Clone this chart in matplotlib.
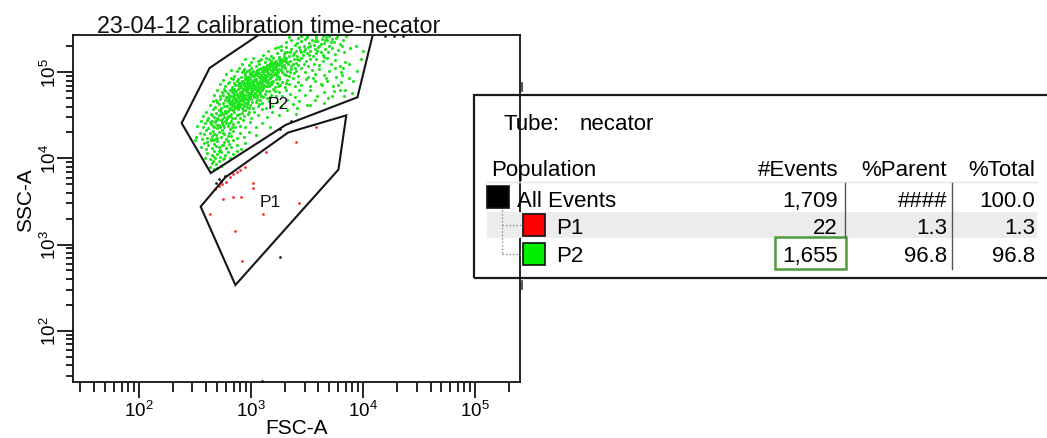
import numpy as np
import matplotlib
matplotlib.use("Agg")
import matplotlib.pyplot as plt
from matplotlib.patches import Polygon, Rectangle
from matplotlib.lines import Line2D
from matplotlib.ticker import LogLocator, NullFormatter, FixedLocator, FixedFormatter

plt.rcParams['font.family'] = ['Liberation Sans', 'DejaVu Sans']
plt.rcParams['mathtext.fontset'] = 'custom'
plt.rcParams['mathtext.rm'] = 'Liberation Sans'
plt.rcParams['mathtext.it'] = 'Liberation Sans:italic'
plt.rcParams['mathtext.default'] = 'regular'

# ---------------------------------------------------------------- data
title = "23-04-12 calibration time-necator"
x_label = "FSC-A"
y_label = "SSC-A"
decades = [2, 3, 4, 5]

# gate vertices, (log10 FSC-A, log10 SSC-A)
p2_gate = [(3.21, 5.56), (2.63, 5.05), (2.38, 4.41), (2.64, 3.83),
           (3.31, 4.39), (3.95, 4.71), (4.11, 5.56)]
p1_gate = [(2.55, 3.44), (2.77, 3.78), (3.33, 4.30), (3.85, 4.50),
           (3.78, 3.87), (2.86, 2.53)]
gate_labels = {"P2": (3.24, 4.64), "P1": (3.17, 3.50)}

# P2 events (log10 FSC-A, log10 SSC-A)
p2_events = [
    (3.27, 5.31), (3.31, 5.35), (3.36, 5.38), (3.39, 5.32), (3.42, 5.40), (3.45, 5.36), (3.47, 5.31),
    (3.50, 5.41), (3.52, 5.34), (3.54, 5.38), (3.56, 5.32), (3.58, 5.40), (3.59, 5.36), (3.61, 5.30),
    (3.63, 5.39), (3.65, 5.34), (3.67, 5.41), (3.68, 5.37), (3.70, 5.31), (3.72, 5.39), (3.74, 5.35),
    (3.76, 5.40), (3.79, 5.33), (3.82, 5.38), (3.41, 5.34), (3.48, 5.39),
    (3.53, 5.30), (3.57, 5.36), (3.62, 5.33), (3.66, 5.38), (3.34, 5.41), (3.71, 5.35), (3.81, 5.31),
    (3.45, 5.42), (3.50, 5.42), (3.58, 5.42), (3.64, 5.42), (3.70, 5.42), (3.77, 5.42), (3.85, 5.42),
    (3.11, 5.20), (3.15, 5.25), (3.18, 5.19), (3.21, 5.28), (3.23, 5.22), (3.25, 5.18), (3.27, 5.26),
    (3.29, 5.21), (3.31, 5.29), (3.32, 5.24), (3.34, 5.19), (3.36, 5.27), (3.38, 5.22), (3.40, 5.25),
    (3.41, 5.19), (3.43, 5.29), (3.45, 5.23), (3.46, 5.20), (3.48, 5.27), (3.50, 5.22), (3.51, 5.29),
    (3.53, 5.25), (3.55, 5.19), (3.57, 5.27), (3.58, 5.22), (3.60, 5.29), (3.62, 5.24), (3.64, 5.20),
    (3.66, 5.27), (3.69, 5.23), (3.72, 5.28), (3.75, 5.21), (3.78, 5.26), (3.83, 5.23), (3.88, 5.28),
    (3.30, 5.24), (3.37, 5.20), (3.44, 5.26), (3.52, 5.20), (3.59, 5.25), (3.24, 5.29),
    (3.35, 5.23), (3.47, 5.25), (3.65, 5.18),
    (2.92, 5.10), (2.95, 5.15), (2.98, 5.08), (3.00, 5.12), (3.02, 5.17), (3.04, 5.07), (3.06, 5.13),
    (3.07, 5.10), (3.09, 5.16), (3.11, 5.06), (3.12, 5.12), (3.14, 5.09), (3.16, 5.15), (3.17, 5.11),
    (3.19, 5.07), (3.20, 5.17), (3.22, 5.13), (3.23, 5.09), (3.25, 5.15), (3.26, 5.11), (3.28, 5.07),
    (3.30, 5.14), (3.31, 5.17), (3.33, 5.10), (3.35, 5.13), (3.36, 5.07), (3.38, 5.16), (3.40, 5.11),
    (3.42, 5.08), (3.43, 5.14), (3.45, 5.17), (3.47, 5.10), (3.49, 5.13), (3.51, 5.07), (3.53, 5.15),
    (3.56, 5.10), (3.58, 5.16), (3.61, 5.08), (3.64, 5.13), (3.68, 5.17), (3.71, 5.10), (3.75, 5.14),
    (3.79, 5.07), (3.84, 5.12), (3.08, 5.14), (3.13, 5.17), (3.18, 5.13), (3.21, 5.10),
    (3.27, 5.16), (3.32, 5.12), (3.37, 5.10), (3.41, 5.15), (3.15, 5.08), (3.29, 5.09),
    (2.78, 4.98), (2.82, 5.03), (2.85, 4.96), (2.87, 5.01), (2.89, 5.05), (2.91, 4.95), (2.92, 5.00),
    (2.94, 5.04), (2.95, 4.97), (2.96, 5.02), (2.97, 4.94), (2.99, 4.99), (3.00, 5.05), (3.02, 5.01),
    (3.03, 4.96), (3.05, 5.03), (3.06, 4.99), (3.08, 4.95), (3.09, 5.05), (3.10, 5.01), (3.12, 4.97),
    (3.13, 5.03), (3.15, 4.99), (3.16, 5.05), (3.18, 4.95), (3.19, 5.01), (3.21, 4.98), (3.22, 5.04),
    (3.24, 5.00), (3.25, 4.95), (3.27, 5.03), (3.29, 4.98), (3.30, 5.05), (3.32, 5.01), (3.34, 4.96),
    (3.36, 5.04), (3.38, 4.99), (3.40, 5.02), (3.42, 4.96), (3.45, 5.05), (3.48, 5.00), (3.51, 4.95),
    (3.54, 5.03), (3.57, 4.98), (3.61, 5.04), (3.65, 4.97), (3.70, 5.02), (3.76, 4.95), (3.82, 5.05),
    (2.98, 5.03), (3.01, 4.97), (3.04, 5.00), (3.07, 5.04), (3.11, 4.95), (3.14, 5.01),
    (3.17, 4.97), (3.20, 5.03), (3.23, 4.96), (3.28, 5.00), (3.31, 4.97), (2.95, 4.99), (2.93, 5.02),
    (3.35, 5.00), (3.39, 5.05),
    (2.72, 4.86), (2.75, 4.91), (2.77, 4.84), (2.80, 4.89), (2.82, 4.93), (2.83, 4.83), (2.85, 4.88),
    (2.86, 4.85), (2.88, 4.92), (2.89, 4.87), (2.91, 4.83), (2.92, 4.90), (2.93, 4.86), (2.95, 4.93),
    (2.96, 4.84), (2.97, 4.89), (2.98, 4.86), (2.99, 4.92), (3.00, 4.82), (3.02, 4.88), (3.03, 4.85),
    (3.04, 4.91), (3.06, 4.87), (3.07, 4.83), (3.08, 4.93), (3.10, 4.89), (3.11, 4.85), (3.13, 4.91),
    (3.14, 4.84), (3.15, 4.88), (3.17, 4.93), (3.18, 4.86), (3.20, 4.90), (3.21, 4.83), (3.23, 4.88),
    (3.25, 4.92), (3.26, 4.85), (3.28, 4.89), (3.30, 4.83), (3.32, 4.91), (3.34, 4.86), (3.37, 4.93),
    (3.39, 4.84), (3.42, 4.89), (3.45, 4.85), (3.49, 4.92), (3.53, 4.84), (3.57, 4.90), (3.62, 4.86),
    (3.67, 4.93), (3.73, 4.84), (3.80, 4.89), (2.87, 4.90), (2.90, 4.85), (2.94, 4.88),
    (2.97, 4.91), (3.01, 4.84), (3.05, 4.89), (3.09, 4.86), (3.12, 4.93), (3.16, 4.84), (3.19, 4.87),
    (3.22, 4.92), (2.84, 4.92), (3.31, 4.87), (3.55, 4.93), (2.79, 4.87), (2.96, 4.94), (3.24, 4.84),
    (2.67, 4.74), (2.70, 4.79), (2.72, 4.72), (2.74, 4.77), (2.76, 4.81), (2.78, 4.71), (2.79, 4.76),
    (2.81, 4.80), (2.82, 4.73), (2.84, 4.78), (2.85, 4.71), (2.87, 4.75), (2.88, 4.81), (2.90, 4.77),
    (2.91, 4.72), (2.93, 4.79), (2.94, 4.74), (2.95, 4.70), (2.96, 4.80), (2.98, 4.76), (2.99, 4.72),
    (3.01, 4.78), (3.02, 4.74), (3.04, 4.81), (3.05, 4.71), (3.07, 4.77), (3.09, 4.73), (3.10, 4.80),
    (3.12, 4.75), (3.14, 4.70), (3.16, 4.78), (3.18, 4.74), (3.20, 4.81), (3.22, 4.72), (3.25, 4.77),
    (3.28, 4.73), (3.31, 4.80), (3.35, 4.75), (3.39, 4.71), (3.43, 4.79), (3.48, 4.74), (3.53, 4.80),
    (3.59, 4.72), (3.65, 4.77), (3.72, 4.73), (3.79, 4.79), (2.80, 4.73), (2.83, 4.81),
    (2.86, 4.78), (2.89, 4.73), (2.92, 4.76), (2.95, 4.81), (2.97, 4.74), (3.00, 4.76), (3.03, 4.72),
    (3.06, 4.79), (3.08, 4.75), (3.11, 4.71), (3.13, 4.78), (2.75, 4.74), (2.77, 4.78), (3.17, 4.71),
    (2.93, 4.70), (3.21, 4.78),
    (2.63, 4.62), (2.66, 4.67), (2.68, 4.60), (2.70, 4.65), (2.72, 4.69), (2.73, 4.59), (2.75, 4.64),
    (2.77, 4.68), (2.78, 4.61), (2.80, 4.66), (2.81, 4.59), (2.83, 4.63), (2.84, 4.69), (2.86, 4.65),
    (2.87, 4.60), (2.89, 4.67), (2.90, 4.62), (2.92, 4.58), (2.93, 4.68), (2.95, 4.64), (2.96, 4.60),
    (2.97, 4.66), (2.99, 4.62), (3.00, 4.69), (3.02, 4.59), (3.04, 4.65), (3.06, 4.61), (3.08, 4.68),
    (3.10, 4.64), (3.13, 4.59), (3.16, 4.67), (3.19, 4.61), (3.23, 4.66), (3.27, 4.60), (3.32, 4.68),
    (3.37, 4.63), (3.43, 4.67), (3.50, 4.62), (3.57, 4.68), (3.65, 4.64), (2.76, 4.61),
    (2.79, 4.69), (2.82, 4.66), (2.85, 4.61), (2.88, 4.64), (2.91, 4.69), (2.94, 4.61), (2.96, 4.63),
    (3.01, 4.66), (3.05, 4.68), (2.71, 4.63), (2.98, 4.58), (3.07, 4.63), (2.69, 4.68),
    (2.57, 4.49), (2.60, 4.54), (2.62, 4.47), (2.64, 4.52), (2.66, 4.57), (2.67, 4.48), (2.69, 4.53),
    (2.71, 4.50), (2.72, 4.56), (2.74, 4.46), (2.75, 4.51), (2.77, 4.55), (2.79, 4.49), (2.80, 4.57),
    (2.82, 4.52), (2.83, 4.47), (2.85, 4.54), (2.87, 4.50), (2.88, 4.57), (2.90, 4.47), (2.92, 4.53),
    (2.94, 4.49), (2.95, 4.56), (2.97, 4.51), (3.00, 4.47), (3.03, 4.54), (3.06, 4.50), (3.10, 4.57),
    (3.14, 4.48), (3.19, 4.54), (3.25, 4.50), (3.32, 4.56), (3.40, 4.52), (2.70, 4.47),
    (2.73, 4.54), (2.76, 4.48), (2.78, 4.53), (2.81, 4.49), (2.84, 4.56), (2.86, 4.47), (2.89, 4.52),
    (2.93, 4.56), (2.65, 4.50), (2.98, 4.54),
    (2.52, 4.38), (2.55, 4.43), (2.57, 4.36), (2.59, 4.41), (2.61, 4.45), (2.62, 4.35), (2.64, 4.40),
    (2.65, 4.44), (2.67, 4.37), (2.68, 4.42), (2.70, 4.35), (2.71, 4.39), (2.73, 4.45), (2.74, 4.41),
    (2.76, 4.36), (2.77, 4.43), (2.79, 4.38), (2.81, 4.34), (2.82, 4.44), (2.84, 4.40), (2.86, 4.36),
    (2.88, 4.42), (2.90, 4.38), (2.93, 4.45), (2.95, 4.37), (2.99, 4.42), (3.04, 4.36), (3.10, 4.41),
    (3.17, 4.37), (2.66, 4.38), (2.69, 4.45), (2.72, 4.36), (2.75, 4.39), (2.78, 4.45),
    (2.80, 4.41), (2.83, 4.37), (2.63, 4.42),
    (2.51, 4.25), (2.54, 4.30), (2.56, 4.23), (2.58, 4.28), (2.60, 4.33), (2.61, 4.24), (2.63, 4.29),
    (2.65, 4.26), (2.66, 4.32), (2.68, 4.22), (2.69, 4.27), (2.71, 4.31), (2.73, 4.25), (2.74, 4.33),
    (2.76, 4.28), (2.78, 4.23), (2.80, 4.30), (2.82, 4.26), (2.84, 4.32), (2.87, 4.24), (2.90, 4.29),
    (2.94, 4.25), (2.98, 4.31), (3.04, 4.27), (2.64, 4.23), (2.67, 4.28), (2.70, 4.24),
    (2.75, 4.30), (2.79, 4.26),
    (2.55, 4.13), (2.58, 4.18), (2.60, 4.11), (2.62, 4.16), (2.64, 4.21), (2.65, 4.12), (2.67, 4.17),
    (2.69, 4.14), (2.70, 4.20), (2.72, 4.10), (2.74, 4.15), (2.76, 4.19), (2.78, 4.12), (2.80, 4.17),
    (2.82, 4.13), (2.84, 4.21), (2.87, 4.15), (2.91, 4.11), (2.95, 4.18), (2.66, 4.21),
    (2.71, 4.13), (2.75, 4.16), (2.79, 4.20), (2.61, 4.19), (2.50, 4.21),
    (2.59, 4.01), (2.61, 4.06), (2.63, 3.99), (2.65, 4.04), (2.67, 4.09), (2.68, 4.00), (2.70, 4.05),
    (2.72, 4.02), (2.73, 4.08), (2.75, 3.99), (2.77, 4.04), (2.79, 4.07), (2.81, 4.01), (2.84, 4.05),
    (2.87, 4.09), (2.66, 4.03), (2.71, 4.09), (2.76, 4.01),
    (2.63, 3.90), (2.65, 3.95), (2.67, 3.88), (2.69, 3.93), (2.71, 3.97), (2.73, 3.91), (2.66, 3.97),
    (2.70, 3.89),
    (3.75, 5.05), (3.81, 4.97), (3.87, 5.10), (3.91, 4.90), (3.95, 5.02), (3.78, 4.85), (3.84, 4.80),
    (3.90, 4.76), (3.69, 4.70), (3.83, 4.72), (3.98, 5.15), (4.00, 5.25), (3.94, 5.30), (3.68, 4.90),
    (3.74, 4.78), (3.63, 4.85), (3.80, 5.00), (3.53, 4.62), (3.41, 4.58), (3.87, 4.93),
]

# densest part of the P2 cloud
p2_core_events = [
    (2.785, 4.603), (2.792, 4.662), (2.788, 4.714), (2.796, 4.548),
    (2.812, 4.634), (2.806, 4.695), (2.817, 4.576), (2.803, 4.741),
    (2.834, 4.612), (2.826, 4.668), (2.838, 4.726), (2.829, 4.773), (2.835, 4.561),
    (2.848, 4.641), (2.856, 4.703), (2.851, 4.748), (2.858, 4.589), (2.846, 4.804),
    (2.872, 4.624), (2.866, 4.683), (2.875, 4.731), (2.868, 4.779), (2.879, 4.657),
    (2.893, 4.649), (2.885, 4.704), (2.897, 4.762), (2.889, 4.813), (2.894, 4.598), (2.883, 4.857),
    (2.913, 4.676), (2.906, 4.728), (2.918, 4.784), (2.909, 4.826), (2.915, 4.628), (2.904, 4.879),
    (2.928, 4.661), (2.936, 4.713), (2.931, 4.748), (2.925, 4.802), (2.938, 4.853), (2.932, 4.903),
    (2.953, 4.692), (2.946, 4.738), (2.957, 4.786), (2.949, 4.829), (2.955, 4.876), (2.944, 4.921),
    (2.958, 4.643), (2.974, 4.718), (2.967, 4.771), (2.977, 4.814), (2.971, 4.862), (2.965, 4.903),
    (2.978, 4.948), (2.969, 4.684), (2.992, 4.706), (2.986, 4.747), (2.995, 4.793), (2.989, 4.842),
    (2.997, 4.886), (2.984, 4.937), (2.993, 4.981), (3.013, 4.732), (3.006, 4.784), (3.016, 4.817),
    (3.009, 4.873), (3.018, 4.912), (3.004, 4.958), (3.012, 5.003), (3.034, 4.757), (3.027, 4.802),
    (3.036, 4.846), (3.025, 4.894), (3.038, 4.927), (3.031, 4.983), (3.026, 4.718), (3.052, 4.784),
    (3.046, 4.826), (3.055, 4.871), (3.048, 4.917), (3.057, 4.963), (3.044, 5.006), (3.053, 4.742),
    (3.073, 4.806), (3.066, 4.853), (3.076, 4.897), (3.068, 4.944), (3.074, 4.986), (3.065, 5.028),
    (3.078, 4.768), (3.092, 4.834), (3.086, 4.876), (3.095, 4.923), (3.088, 4.968), (3.097, 5.012),
    (3.085, 5.053), (3.113, 4.857), (3.106, 4.903), (3.116, 4.948), (3.108, 4.994), (3.114, 5.038),
    (3.105, 4.812), (3.132, 4.884), (3.126, 4.926), (3.136, 4.972), (3.128, 5.017), (3.134, 5.062),
    (3.125, 4.838), (3.152, 4.908), (3.146, 4.956), (3.155, 4.997), (3.148, 5.043), (3.157, 5.086),
    (3.173, 4.934), (3.166, 4.978), (3.175, 5.026), (3.168, 5.072), (3.176, 4.887),
    (3.192, 4.963), (3.186, 5.008), (3.195, 5.053), (3.188, 5.097),
    (3.213, 4.986), (3.206, 5.034), (3.215, 5.077), (3.208, 5.123),
    (3.232, 5.014), (3.226, 5.056), (3.235, 5.103), (3.228, 4.968),
    (3.252, 5.037), (3.246, 5.084), (3.255, 5.128),
    (3.273, 5.063), (3.266, 5.106), (3.275, 5.147),
    (3.292, 5.088), (3.286, 5.136), (3.295, 5.176),
    (3.312, 5.117), (3.306, 5.168),
    (2.704, 4.452), (2.722, 4.503), (2.738, 4.418), (2.763, 4.547), (2.781, 4.474),
    (2.734, 4.583), (2.693, 4.384), (2.772, 4.406), (2.751, 4.521), (2.713, 4.562),
]

# P1 events
p1_events = [
    (3.58, 4.36), (3.40, 4.19), (3.13, 4.08), (2.95, 3.90), (2.90, 3.87), (2.87, 3.84),
    (2.81, 3.78), (2.78, 3.73), (3.02, 3.72), (3.02, 3.66), (2.68, 3.64), (2.75, 3.53),
    (2.84, 3.55), (2.91, 3.55), (3.43, 3.48), (2.63, 3.35), (3.11, 3.35), (2.86, 3.16),
    (2.92, 2.81), (2.84, 3.82), (2.74, 3.70), (2.71, 3.68),
]

# events outside both gates
ungated_events = [
    (2.77, 3.80), (2.71, 3.76), (2.73, 3.74), (2.69, 3.71), (3.26, 2.85),
    (3.26, 4.34), (3.36, 4.44), (3.10, 1.415), (4.20, 5.42), (4.28, 5.42), (4.36, 5.42),
]

# statistics table
table_tube = "necator"
table_headers = ["Population", "#Events", "%Parent", "%Total"]
populations = ["All Events", "P1", "P2"]
pop_colors = ["#000000", "#ff0000", "#00ee00"]
n_events = ["1,709", "22", "1,655"]
pct_parent = ["####", "1.3", "96.8"]
pct_total = ["100.0", "1.3", "96.8"]

# ---------------------------------------------------------------- figure
W, H = 1047, 439
fig = plt.figure(figsize=(W / 100, H / 100), dpi=100)
fig.patch.set_facecolor("white")


def fx(px):
    return px / W


def fy(py):
    return 1 - py / H


ax = fig.add_axes([fx(73.3), fy(383), fx(520) - fx(73.3), fy(36) - fy(383)])
ax.set_xscale("log")
ax.set_yscale("log")
ax.set_xlim(10 ** 1.413, 10 ** 5.401)
ax.set_ylim(10 ** 1.404, 10 ** 5.433)

p2 = np.array(p2_events + p2_core_events)
p1 = np.array(p1_events)
ug = np.array(ungated_events)
ax.scatter(10 ** p2[:, 0], 10 ** p2[:, 1], s=5, c="#1ee61e", linewidths=0, zorder=2)
ax.scatter(10 ** p1[:, 0], 10 ** p1[:, 1], s=4, c="#ff2b2b", linewidths=0, zorder=2)
ax.scatter(10 ** ug[:, 0], 10 ** ug[:, 1], s=4, c="#222222", linewidths=0, zorder=2)

for gate in (p2_gate, p1_gate):
    g = 10 ** np.array(gate)
    ax.add_patch(Polygon(g, closed=True, fill=False, edgecolor="#151515",
                         linewidth=1.5, zorder=3))
for name, (gx, gy) in gate_labels.items():
    ax.text(10 ** gx, 10 ** gy, name, fontsize=12.5, ha="center", va="center",
            color="#111111", zorder=4)

# axis styling
for sp in ax.spines.values():
    sp.set_linewidth(1.3)
    sp.set_color("#111111")

major = [10.0 ** d for d in decades]
for axis in (ax.xaxis, ax.yaxis):
    axis.set_major_locator(FixedLocator(major))
    axis.set_major_formatter(FixedFormatter([r"$10^{%d}$" % d for d in decades]))
    axis.set_minor_locator(LogLocator(base=10, subs=np.arange(2, 10), numticks=20))
    axis.set_minor_formatter(NullFormatter())

ax.tick_params(axis="x", which="major", direction="out", length=11.5, width=1.3,
               pad=1.5, labelsize=13.5, color="#111111")
ax.tick_params(axis="x", which="minor", direction="out", length=7.2, width=1.3,
               color="#111111")
ax.tick_params(axis="y", which="major", direction="out", length=11.5, width=1.3,
               pad=-1.9, labelsize=13.5, labelrotation=90, color="#111111")
ax.tick_params(axis="y", which="minor", direction="out", length=5, width=1.3,
               color="#111111")
for lab in ax.get_yticklabels():
    lab.set_va("center")

ax.set_xlabel(x_label, fontsize=15)
ax.xaxis.set_label_coords(0.5, -0.131)
ax.xaxis.label.set_va("center")
ax.set_ylabel(y_label, fontsize=15)
ax.yaxis.set_label_coords(-0.106, 0.527)
ax.yaxis.label.set_va("center")

fig.text(fx(96.7), fy(33.2), title, fontsize=16.8, ha="left", va="baseline",
         color="#111111")

# ---------------------------------------------------------------- statistics table
def frect(x0, y0, x1, y1, **kw):
    fig.add_artist(Rectangle((fx(x0), fy(y1)), fx(x1) - fx(x0), fy(y0) - fy(y1),
                             transform=fig.transFigure, **kw))


def fline(xs, ys, **kw):
    fig.add_artist(Line2D([fx(v) for v in xs], [fy(v) for v in ys],
                          transform=fig.transFigure, **kw))


TS = 16
frect(473.7, 95.7, 1050, 279.3, fill=False, edgecolor="#1a1a1a", linewidth=1.6)
fline([521.5, 521.5], [84, 92], color="#333333", linewidth=1.2)
fline([521.5, 521.5], [282, 290], color="#333333", linewidth=1.2)

fig.text(fx(503), fy(129.8), "Tube:", fontsize=TS, va="baseline", ha="left")
fig.text(fx(580), fy(129.8), table_tube, fontsize=TS, va="baseline", ha="left")

col_right = [838, 947, 1035]
fig.text(fx(491), fy(176.2), table_headers[0], fontsize=TS, va="baseline", ha="left")
for hdr, xr in zip(table_headers[1:], col_right):
    fig.text(fx(xr), fy(176.2), hdr, fontsize=TS, va="baseline", ha="right")

fline([487, 1037], [182.5, 182.5], color="#e4e4e4", linewidth=1.0)

# shaded band behind the P1 row
frect(486.6, 213.3, 1037, 239, facecolor="#ececec", edgecolor="none")

row_base = [207.2, 233.7, 261.7]
row_center = [198.0, 225.8, 254.7]
swatch_x = [487, 523, 523]
name_x = [517, 556.5, 556.5]

# tree connectors
fline([502.4, 502.4], [211, 254.7], color="#8a8a8a", linewidth=1.0, linestyle=(0, (1, 1.5)))
for yc in row_center[1:]:
    fline([502.4, 523], [yc, yc], color="#8a8a8a", linewidth=1.0, linestyle=(0, (1, 1.5)))

for i, pop in enumerate(populations):
    yc = row_center[i]
    sx = swatch_x[i]
    size = 22
    frect(sx, yc - size / 2, sx + size, yc + size / 2, facecolor=pop_colors[i],
          edgecolor="#111111", linewidth=1.2)
    fig.text(fx(name_x[i]), fy(row_base[i]), pop, fontsize=TS, va="baseline", ha="left")
    for vals, xr in zip((n_events, pct_parent, pct_total), col_right):
        fig.text(fx(xr), fy(row_base[i]), vals[i], fontsize=TS, va="baseline", ha="right")

# column separators
fline([845.4, 845.4], [184, 238], color="#555555", linewidth=1.0)
fline([952, 952], [184, 270], color="#555555", linewidth=1.0)

# highlight around the P2 event count
frect(775, 238.3, 846, 270, fill=False, edgecolor="#4f9a3a", linewidth=1.8)

fig.savefig("out.png", dpi=100, facecolor="white")
